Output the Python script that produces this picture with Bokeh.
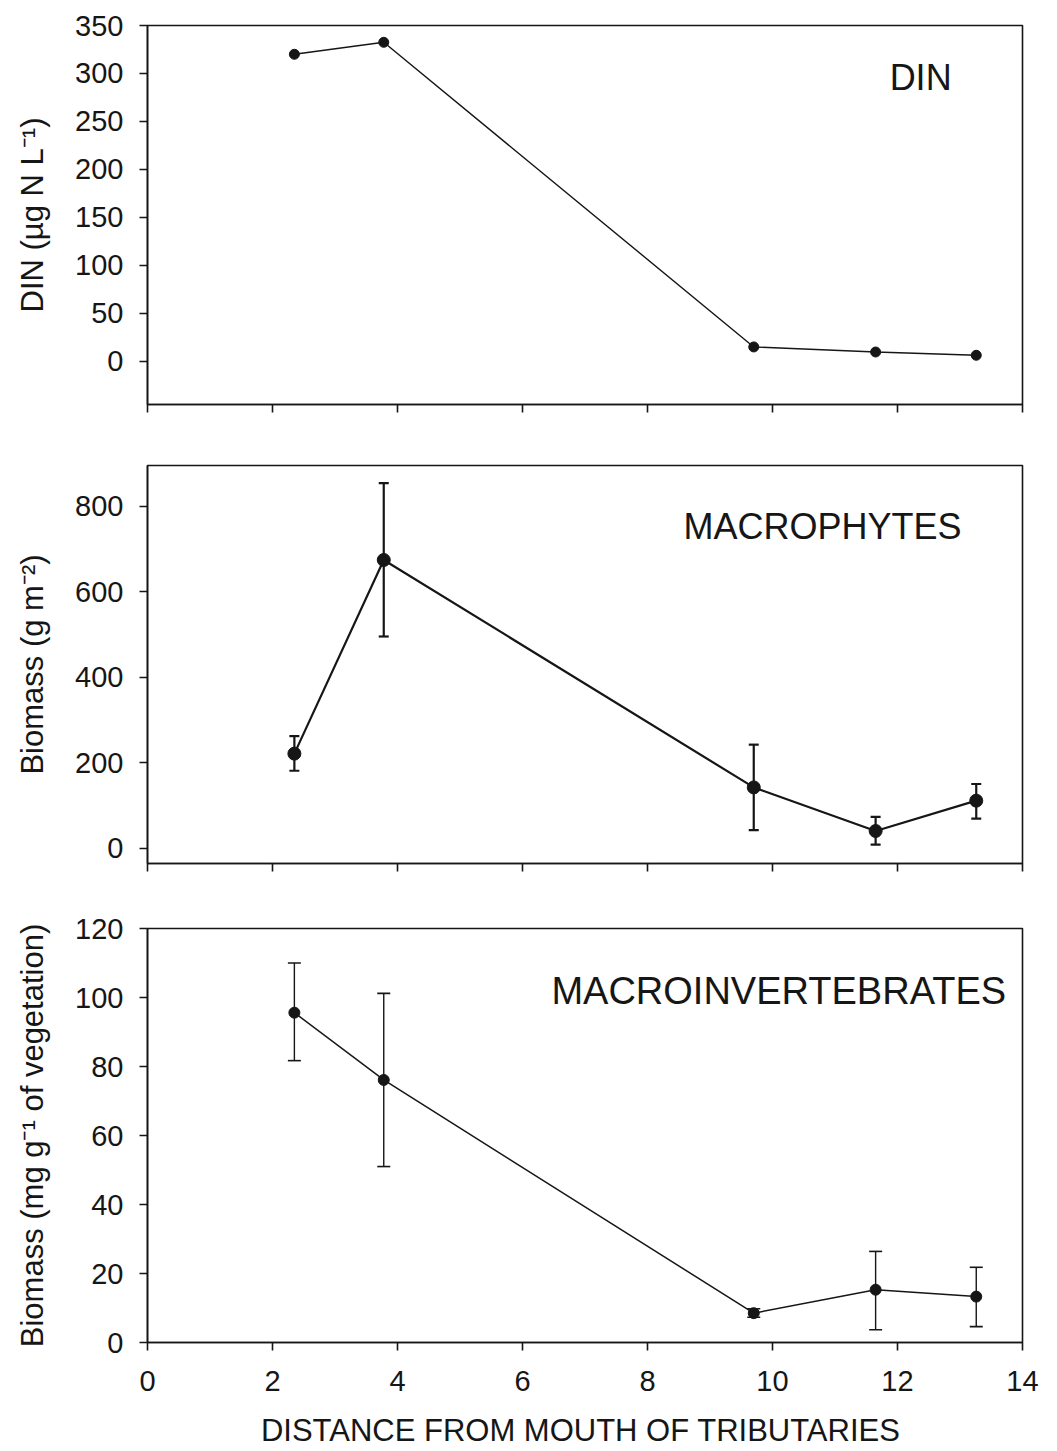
from bokeh.plotting import figure
from bokeh.layouts import column
from bokeh.models import Range1d, FixedTicker, Whisker, TeeHead, ColumnDataSource, Label
from bokeh.embed import file_html
from bokeh.resources import INLINE

# ---- data ----
distance = [2.35, 3.78, 9.70, 11.65, 13.26]

din = [320, 332.5, 15, 9.7, 6.3]

macrophytes = [221, 674, 142, 40, 111]
macrophytes_upper = [262, 854, 242, 73, 150]
macrophytes_lower = [181, 495, 42, 8, 69]

invertebrates = [95.6, 76.1, 8.5, 15.3, 13.3]
invertebrates_upper = [110.0, 101.2, 9.8, 26.4, 21.8]
invertebrates_lower = [81.7, 51.0, 7.3, 3.7, 4.6]

x_ticks = [0, 2, 4, 6, 8, 10, 12, 14]
din_ticks = [0, 50, 100, 150, 200, 250, 300, 350]
macro_ticks = [0, 200, 400, 600, 800]
invert_ticks = [0, 20, 40, 60, 80, 100, 120]

FONT = "Liberation Sans"
INK = "#161616"
W = 1053


def make_fig(height, mbt, mbb, mbl, mbr, yr, yticks, ylabel, xlabels):
    p = figure(width=W, height=height, output_backend="svg", toolbar_location=None,
               x_range=Range1d(0, 14), y_range=Range1d(*yr),
               min_border_top=mbt, min_border_bottom=mbb,
               min_border_left=mbl, min_border_right=mbr)
    p.xgrid.visible = False
    p.ygrid.visible = False
    p.outline_line_color = INK
    p.outline_line_width = 1.6
    p.background_fill_color = "white"
    p.border_fill_color = "white"
    for ax in (p.xaxis[0], p.yaxis[0]):
        ax.axis_line_color = INK
        ax.axis_line_width = 1.6
        ax.major_tick_line_color = INK
        ax.major_tick_line_width = 1.6
        ax.major_tick_out = 8
        ax.major_tick_in = 0
        ax.minor_tick_line_color = None
        ax.major_label_text_font = FONT
        ax.major_label_text_font_size = "29px"
        ax.major_label_text_color = INK
        ax.axis_label_text_font = FONT
        ax.axis_label_text_font_style = "normal"
        ax.axis_label_text_font_size = "31px"
        ax.axis_label_text_color = INK
    p.xaxis.ticker = FixedTicker(ticks=x_ticks)
    p.yaxis.ticker = FixedTicker(ticks=yticks)
    p.yaxis.axis_label = ylabel
    p.yaxis.major_label_standoff = 16
    p.yaxis.axis_label_standoff = 22
    if xlabels:
        p.xaxis.axis_label = "DISTANCE FROM  MOUTH OF TRIBUTARIES"
        p.xaxis.major_label_standoff = 20
        p.xaxis.axis_label_standoff = 19
    else:
        # tick marks only, no tick labels on the upper panels
        p.xaxis.major_label_text_font_size = "10px"
        p.xaxis.major_label_text_color = None
        p.xaxis.major_label_text_alpha = 0
        p.xaxis.major_label_standoff = 0
    return p


# ---- top panel: DIN ----
p1 = make_fig(440, 25, 36, 145, 31, (-45, 350), din_ticks, "DIN (µg N L⁻¹)", False)
p1.line(distance, din, line_color=INK, line_width=1.4)
p1.scatter(distance, din, size=10, fill_color=INK, line_color=INK)
p1.add_layout(Label(x=12.37, y=296, text="DIN", text_font=FONT, text_font_size="36px",
                    text_align="center", text_baseline="middle", text_color=INK))

# ---- middle panel: macrophytes ----
p2 = make_fig(460, 25, 37, 147, 25, (-36, 895), macro_ticks, "Biomass (g m⁻²)", False)
src2 = ColumnDataSource(dict(x=distance, y=macrophytes,
                             upper=macrophytes_upper, lower=macrophytes_lower))
p2.add_layout(Whisker(source=src2, base="x", upper="upper", lower="lower",
                      line_color=INK, line_width=2.2,
                      upper_head=TeeHead(size=10, line_color=INK, line_width=2.2),
                      lower_head=TeeHead(size=10, line_color=INK, line_width=2.2)))
p2.line("x", "y", source=src2, line_color=INK, line_width=2.2)
p2.scatter("x", "y", source=src2, size=13, fill_color=INK, line_color=INK)
p2.add_layout(Label(x=10.8, y=753, text="MACROPHYTES", text_font=FONT, text_font_size="36px",
                    text_align="center", text_baseline="middle", text_color=INK))

# ---- bottom panel: macroinvertebrates ----
p3 = make_fig(551, 28, 109, 145, 18, (0, 120), invert_ticks,
              "Biomass (mg g⁻¹ of vegetation)", True)
src3 = ColumnDataSource(dict(x=distance, y=invertebrates,
                             upper=invertebrates_upper, lower=invertebrates_lower))
p3.add_layout(Whisker(source=src3, base="x", upper="upper", lower="lower",
                      line_color=INK, line_width=1.4,
                      upper_head=TeeHead(size=13, line_color=INK, line_width=1.6),
                      lower_head=TeeHead(size=13, line_color=INK, line_width=1.6)))
p3.line("x", "y", source=src3, line_color=INK, line_width=1.5)
p3.scatter("x", "y", source=src3, size=11, fill_color=INK, line_color=INK)
p3.add_layout(Label(x=10.1, y=102, text="MACROINVERTEBRATES", text_font=FONT,
                    text_font_size="38px", text_align="center", text_baseline="middle",
                    text_color=INK))

layout = column(p1, p2, p3, spacing=0)
open("out.html", "w").write(file_html(layout, INLINE))
